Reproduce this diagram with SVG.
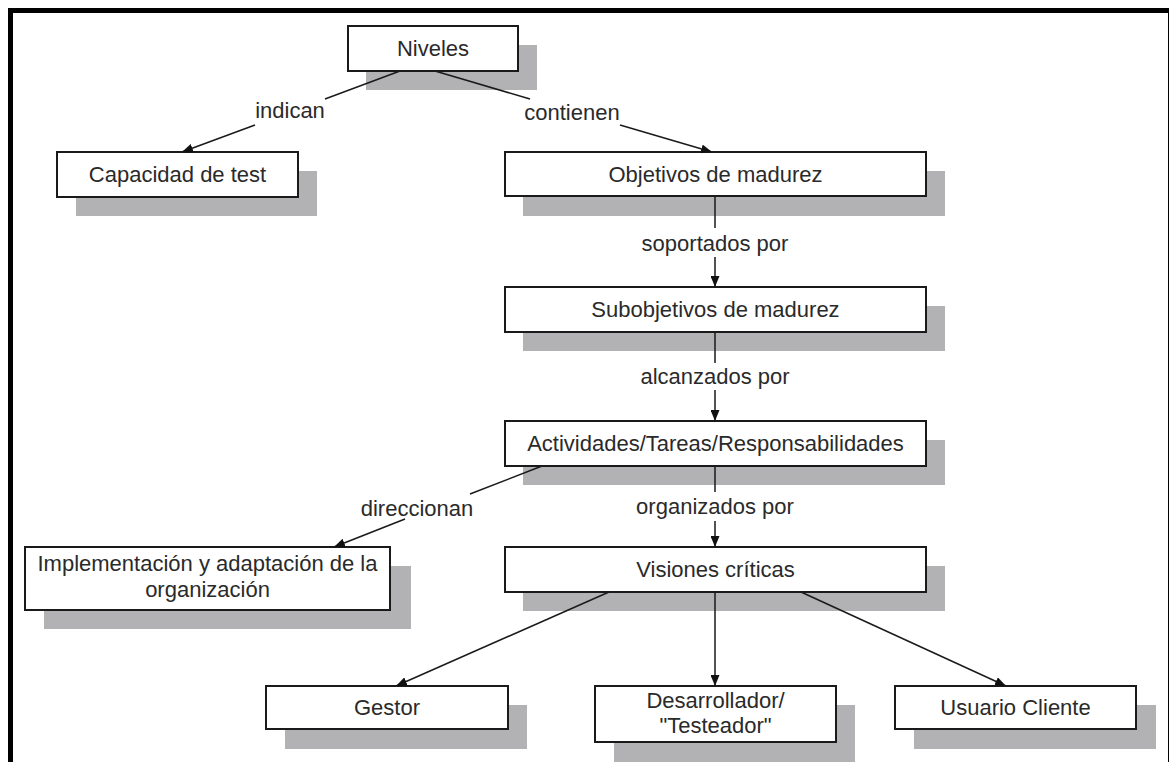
<svg xmlns="http://www.w3.org/2000/svg" width="1169" height="762" viewBox="0 0 1169 762">
  <defs>
    <marker id="arrow" markerUnits="userSpaceOnUse" markerWidth="11" markerHeight="9" refX="11" refY="4.5" orient="auto">
      <path d="M0,0 L11,4.5 L0,9 z" fill="#111"/>
    </marker>
    <style>
      .shadow { fill: #b2b1b3; stroke: none; }
      .box { fill: #ffffff; stroke: #1a1a1a; stroke-width: 2; }
      .txt { font-family: "Liberation Sans", Arial, sans-serif; font-size: 22px; fill: #2a2a2a; text-anchor: middle; }
      .edge { fill: none; stroke: #1a1a1a; stroke-width: 1.5; }
      .arr { marker-end: url(#arrow); }
    </style>
  </defs>

  <rect width="1169" height="762" fill="#ffffff"/>
  <!-- outer frame (runs off the right and bottom edges) -->
  <rect x="10.5" y="10.5" width="1160" height="800" fill="none" stroke="#000" stroke-width="5"/>

  <g id="niveles">
    <rect class="shadow" x="366" y="45" width="171" height="45"/>
    <rect class="box" x="348" y="26" width="170" height="45"/>
    <text class="txt" x="433" y="56">Niveles</text>
  </g>

  <g id="capacidad">
    <rect class="shadow" x="76" y="171" width="241" height="45"/>
    <rect class="box" x="57" y="152" width="241" height="45"/>
    <text class="txt" x="177.5" y="182">Capacidad de test</text>
  </g>

  <g id="objetivos">
    <rect class="shadow" x="523" y="171" width="422" height="45"/>
    <rect class="box" x="505" y="152" width="421" height="44"/>
    <text class="txt" x="715.5" y="182">Objetivos de madurez</text>
  </g>

  <g id="subobjetivos">
    <rect class="shadow" x="523" y="306" width="422" height="45"/>
    <rect class="box" x="505" y="287" width="421" height="45"/>
    <text class="txt" x="715.5" y="317">Subobjetivos de madurez</text>
  </g>

  <g id="actividades">
    <rect class="shadow" x="523" y="440" width="422" height="45"/>
    <rect class="box" x="505" y="421" width="421" height="45"/>
    <text class="txt" x="715.5" y="451">Actividades/Tareas/Responsabilidades</text>
  </g>

  <g id="visiones">
    <rect class="shadow" x="523" y="566" width="422" height="45"/>
    <rect class="box" x="505" y="547" width="421" height="45"/>
    <text class="txt" x="715.5" y="577">Visiones críticas</text>
  </g>

  <g id="implementacion">
    <rect class="shadow" x="44" y="566" width="367" height="63"/>
    <rect class="box" x="25" y="547" width="365" height="63"/>
    <text class="txt" x="207.5" y="571">Implementación y adaptación de la</text>
    <text class="txt" x="207.5" y="597">organización</text>
  </g>

  <g id="gestor">
    <rect class="shadow" x="285" y="705" width="242" height="44"/>
    <rect class="box" x="266" y="686" width="242" height="43"/>
    <text class="txt" x="387" y="715">Gestor</text>
  </g>

  <g id="desarrollador">
    <rect class="shadow" x="614" y="705" width="241" height="57"/>
    <rect class="box" x="595" y="686" width="241" height="56"/>
    <text class="txt" x="715.5" y="708">Desarrollador/</text>
    <text class="txt" x="715.5" y="733">"Testeador"</text>
  </g>

  <g id="usuario">
    <rect class="shadow" x="914" y="705" width="242" height="44"/>
    <rect class="box" x="895" y="686" width="241" height="43"/>
    <text class="txt" x="1015.5" y="715">Usuario Cliente</text>
  </g>

  <!-- connectors, drawn over the box shadows; each labelled edge is split around its label -->
  <g id="connectors">
    <line class="edge" x1="400" y1="71" x2="325" y2="99"/>
    <line class="edge arr" x1="255" y1="125" x2="182" y2="152"/>
    <text class="txt" x="290" y="118">indican</text>

    <line class="edge" x1="435" y1="71" x2="530" y2="99"/>
    <line class="edge arr" x1="620" y1="125" x2="712" y2="152"/>
    <text class="txt" x="572" y="120">contienen</text>

    <line class="edge" x1="715" y1="196" x2="715" y2="228"/>
    <line class="edge arr" x1="715" y1="257" x2="715" y2="287"/>
    <text class="txt" x="715" y="251">soportados por</text>

    <line class="edge" x1="715" y1="332" x2="715" y2="363"/>
    <line class="edge arr" x1="715" y1="390" x2="715" y2="421"/>
    <text class="txt" x="715" y="384">alcanzados por</text>

    <line class="edge" x1="715" y1="466" x2="715" y2="492"/>
    <line class="edge arr" x1="715" y1="521" x2="715" y2="547"/>
    <text class="txt" x="715" y="514">organizados por</text>

    <line class="edge" x1="542" y1="466" x2="470" y2="494"/>
    <line class="edge arr" x1="405" y1="519" x2="334" y2="547"/>
    <text class="txt" x="417" y="516">direccionan</text>

    <line class="edge arr" x1="609" y1="592" x2="396" y2="686"/>
    <line class="edge arr" x1="715" y1="592" x2="715" y2="686"/>
    <line class="edge arr" x1="801" y1="592" x2="1006" y2="686"/>
  </g>
</svg>
